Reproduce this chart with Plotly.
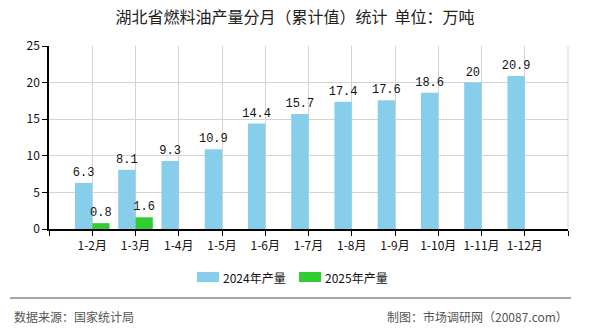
import plotly.graph_objects as go

months = ["1-2月", "1-3月", "1-4月", "1-5月", "1-6月", "1-7月",
          "1-8月", "1-9月", "1-10月", "1-11月", "1-12月"]
output_2024 = [6.3, 8.1, 9.3, 10.9, 14.4, 15.7, 17.4, 17.6, 18.6, 20, 20.9]
output_2025 = [0.8, 1.6]
y_ticks = [0, 5, 10, 15, 20, 25]
series_names = ["2024年产量", "2025年产量"]
series_colors = ["#87CEEB", "#32CD32"]

FONT = "Noto Sans CJK SC"
xpos = list(range(len(months)))

# plot area in pixels: x 49..568, y 46..229
PL, PR, PT, PB = 49, 568, 46, 229
PW, PH = PR - PL, PB - PT


def px_x(x):
    return (x - PL) / PW


def px_y(y):
    return (PB - y) / PH


def fmt(v):
    return f"{v:g}"


fig = go.Figure()
for name, color, vals in zip(series_names, series_colors, [output_2024, output_2025]):
    fig.add_trace(go.Bar(
        x=xpos[:len(vals)], y=vals, name=name,
        marker=dict(color=color, line=dict(width=0)),
        text=[fmt(v) for v in vals], textposition="outside",
        constraintext="none",
        textfont=dict(family="Liberation Mono", size=12, color="#111"),
        cliponaxis=False,
    ))

tickvals = list(range(-1, len(months) + 1))
ticktext = [""] + months + [""]

shapes = [
    dict(type="line", xref="paper", yref="paper", x0=1, x1=1, y0=0, y1=1,
         line=dict(color="#d3d3d3", width=1)),
    dict(type="line", xref="paper", yref="paper",
         x0=px_x(10), x1=px_x(571), y0=px_y(298), y1=px_y(298),
         line=dict(color="#888", width=1.5)),
]
annotations = [
    dict(text="数据来源：国家统计局", xref="paper", yref="paper",
         x=px_x(12), y=px_y(316), xanchor="left", yanchor="middle",
         showarrow=False, font=dict(family=FONT, size=12, color="#555")),
    dict(text="制图：市场调研网（20087.com）", xref="paper", yref="paper",
         x=px_x(570), y=px_y(316), xanchor="right", yanchor="middle",
         showarrow=False, font=dict(family=FONT, size=12, color="#555")),
]

# legend: wide colour swatches with labels, centred below the axis
legend_x = [197, 299]
for lx, name, color in zip(legend_x, series_names, series_colors):
    shapes.append(dict(type="rect", xref="paper", yref="paper",
                       x0=px_x(lx), x1=px_x(lx + 22), y0=px_y(282), y1=px_y(272),
                       fillcolor=color, line=dict(width=0)))
    annotations.append(dict(text=name, xref="paper", yref="paper",
                            x=px_x(lx + 24), y=px_y(277), xanchor="left", yanchor="middle",
                            showarrow=False, font=dict(family=FONT, size=12, color="#111")))

fig.update_layout(
    width=590, height=330,
    margin=dict(l=PL, r=590 - PR, t=PT, b=330 - PB),
    paper_bgcolor="white", plot_bgcolor="white",
    barmode="group", bargap=0.2, bargroupgap=0,
    font=dict(family=FONT, size=12, color="#111"),
    title=dict(text="湖北省燃料油产量分月（累计值）统计  单位：万吨",
               x=0.5, xanchor="center", y=0.948, yanchor="middle",
               font=dict(family=FONT, size=16, color="#222")),
    showlegend=False,
    xaxis=dict(range=[-1, len(months)], tickmode="array", tickvals=tickvals,
               ticktext=ticktext, showgrid=True, gridcolor="#d3d3d3", gridwidth=1,
               showline=True, linecolor="#000", linewidth=1.5,
               ticks="outside", ticklen=5, tickcolor="#000", zeroline=False,
               tickfont=dict(family=FONT, size=12, color="#111")),
    yaxis=dict(range=[0, 25], tickmode="array", tickvals=y_ticks,
               showgrid=True, gridcolor="#d3d3d3", gridwidth=1,
               showline=True, linecolor="#000", linewidth=1.5,
               ticks="outside", ticklen=5, tickcolor="#000", zeroline=False,
               tickfont=dict(family=FONT, size=12, color="#111")),
    shapes=shapes,
    annotations=annotations,
)

fig.write_html("out.html")
